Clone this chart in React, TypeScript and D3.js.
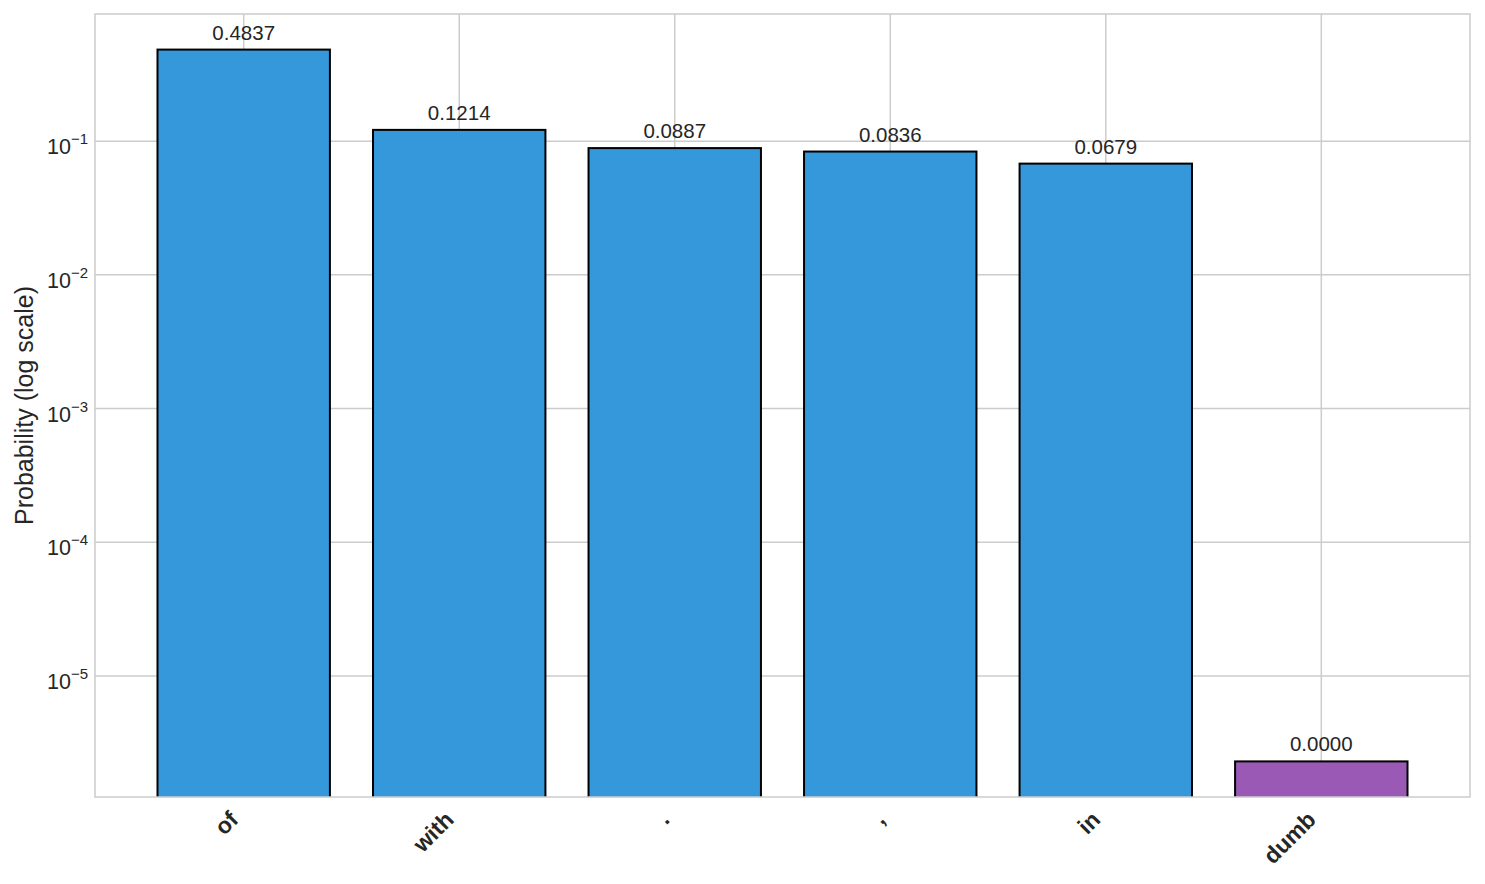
import React, { useEffect, useRef } from "react";
import * as d3 from "d3";

const tokens = ["of", "with", ".", ",", "in", "dumb"];
const probs = [0.4837, 0.1214, 0.0887, 0.0836, 0.0679, 0.0000023];
const barColors = ["#3498db", "#3498db", "#3498db", "#3498db", "#3498db", "#9b59b6"];
const tickExps = [-1, -2, -3, -4, -5];

const W = 1485;
const H = 884;
const margin = { top: 14, right: 15, bottom: 87, left: 95 };
const FONT = "'Liberation Sans', Arial, Helvetica, sans-serif";
const TEXT = "#262626";
const GRID = "#cccccc";

export default function App() {
  const ref = useRef<SVGSVGElement>(null);

  useEffect(() => {
    const svg = d3.select(ref.current);
    svg.selectAll("*").remove();
    const width = W - margin.left - margin.right;
    const height = H - margin.top - margin.bottom;

    // log axis limits padded 5% either side of data range, as matplotlib does
    const lo = Math.log10(d3.min(probs) as number);
    const hi = Math.log10(d3.max(probs) as number);
    const pad = (hi - lo) * 0.05;
    const y = d3
      .scaleLog()
      .domain([Math.pow(10, lo - pad), Math.pow(10, hi + pad)])
      .range([height, 0]);
    const x = d3
      .scaleBand()
      .domain(tokens)
      .range([0, width])
      .paddingInner(0.2)
      .paddingOuter(0.29);

    const g = svg
      .append("g")
      .attr("transform", `translate(${margin.left},${margin.top})`);

    svg
      .append("defs")
      .append("clipPath")
      .attr("id", "plotclip")
      .append("rect")
      .attr("width", width)
      .attr("height", height);

    // grid
    g.selectAll(".hgrid")
      .data(tickExps)
      .join("line")
      .attr("x1", 0)
      .attr("x2", width)
      .attr("y1", (e) => y(Math.pow(10, e)))
      .attr("y2", (e) => y(Math.pow(10, e)))
      .attr("stroke", GRID)
      .attr("stroke-width", 1.5);
    g.selectAll(".vgrid")
      .data(tokens)
      .join("line")
      .attr("x1", (d) => (x(d) as number) + x.bandwidth() / 2)
      .attr("x2", (d) => (x(d) as number) + x.bandwidth() / 2)
      .attr("y1", 0)
      .attr("y2", height)
      .attr("stroke", GRID)
      .attr("stroke-width", 1.5);

    // bars
    g.append("g")
      .attr("clip-path", "url(#plotclip)")
      .selectAll("rect")
      .data(tokens)
      .join("rect")
      .attr("x", (d) => x(d) as number)
      .attr("width", x.bandwidth())
      .attr("y", (d, i) => y(probs[i]))
      .attr("height", (d, i) => height + 5 - y(probs[i]))
      .attr("fill", (d, i) => barColors[i])
      .attr("stroke", "#000")
      .attr("stroke-width", 2);

    // value labels
    g.selectAll(".vlabel")
      .data(tokens)
      .join("text")
      .attr("x", (d) => (x(d) as number) + x.bandwidth() / 2)
      .attr("y", (d, i) => y(probs[i]) - 10)
      .attr("text-anchor", "middle")
      .attr("font-family", FONT)
      .attr("font-size", 20.5)
      .attr("fill", TEXT)
      .text((d, i) => probs[i].toFixed(4));

    // spines
    g.append("rect")
      .attr("width", width)
      .attr("height", height)
      .attr("fill", "none")
      .attr("stroke", GRID)
      .attr("stroke-width", 1.5);

    // y tick labels 10^n
    const yt = g
      .selectAll(".ytick")
      .data(tickExps)
      .join("text")
      .attr("x", -7)
      .attr("y", (e) => y(Math.pow(10, e)) + 13)
      .attr("text-anchor", "end")
      .attr("font-family", FONT)
      .attr("font-size", 21.5)
      .attr("fill", TEXT);
    yt.append("tspan").text("10");
    yt.append("tspan")
      .attr("dy", -10)
      .attr("font-size", 15)
      .text((e) => `\u2212${Math.abs(e)}`);

    // x tick labels, rotated 45
    g.selectAll(".xtick")
      .data(tokens)
      .join("text")
      .attr("transform", (d) => {
        const cx = (x(d) as number) + x.bandwidth() / 2 - 4;
        return `translate(${cx},${height + 24}) rotate(-45)`;
      })
      .attr("text-anchor", "end")
      .attr("font-family", FONT)
      .attr("font-size", 23)
      .attr("font-weight", "bold")
      .attr("fill", TEXT)
      .text((d) => d);

    // y axis label
    svg
      .append("text")
      .attr("transform", `translate(33,${margin.top + height / 2}) rotate(-90)`)
      .attr("text-anchor", "middle")
      .attr("font-family", FONT)
      .attr("font-size", 25)
      .attr("fill", TEXT)
      .text("Probability (log scale)");
  }, []);

  return (
    <svg
      ref={ref}
      width={W}
      height={H}
      style={{ position: "absolute", left: 0, top: 0, background: "#fff" }}
    />
  );
}
